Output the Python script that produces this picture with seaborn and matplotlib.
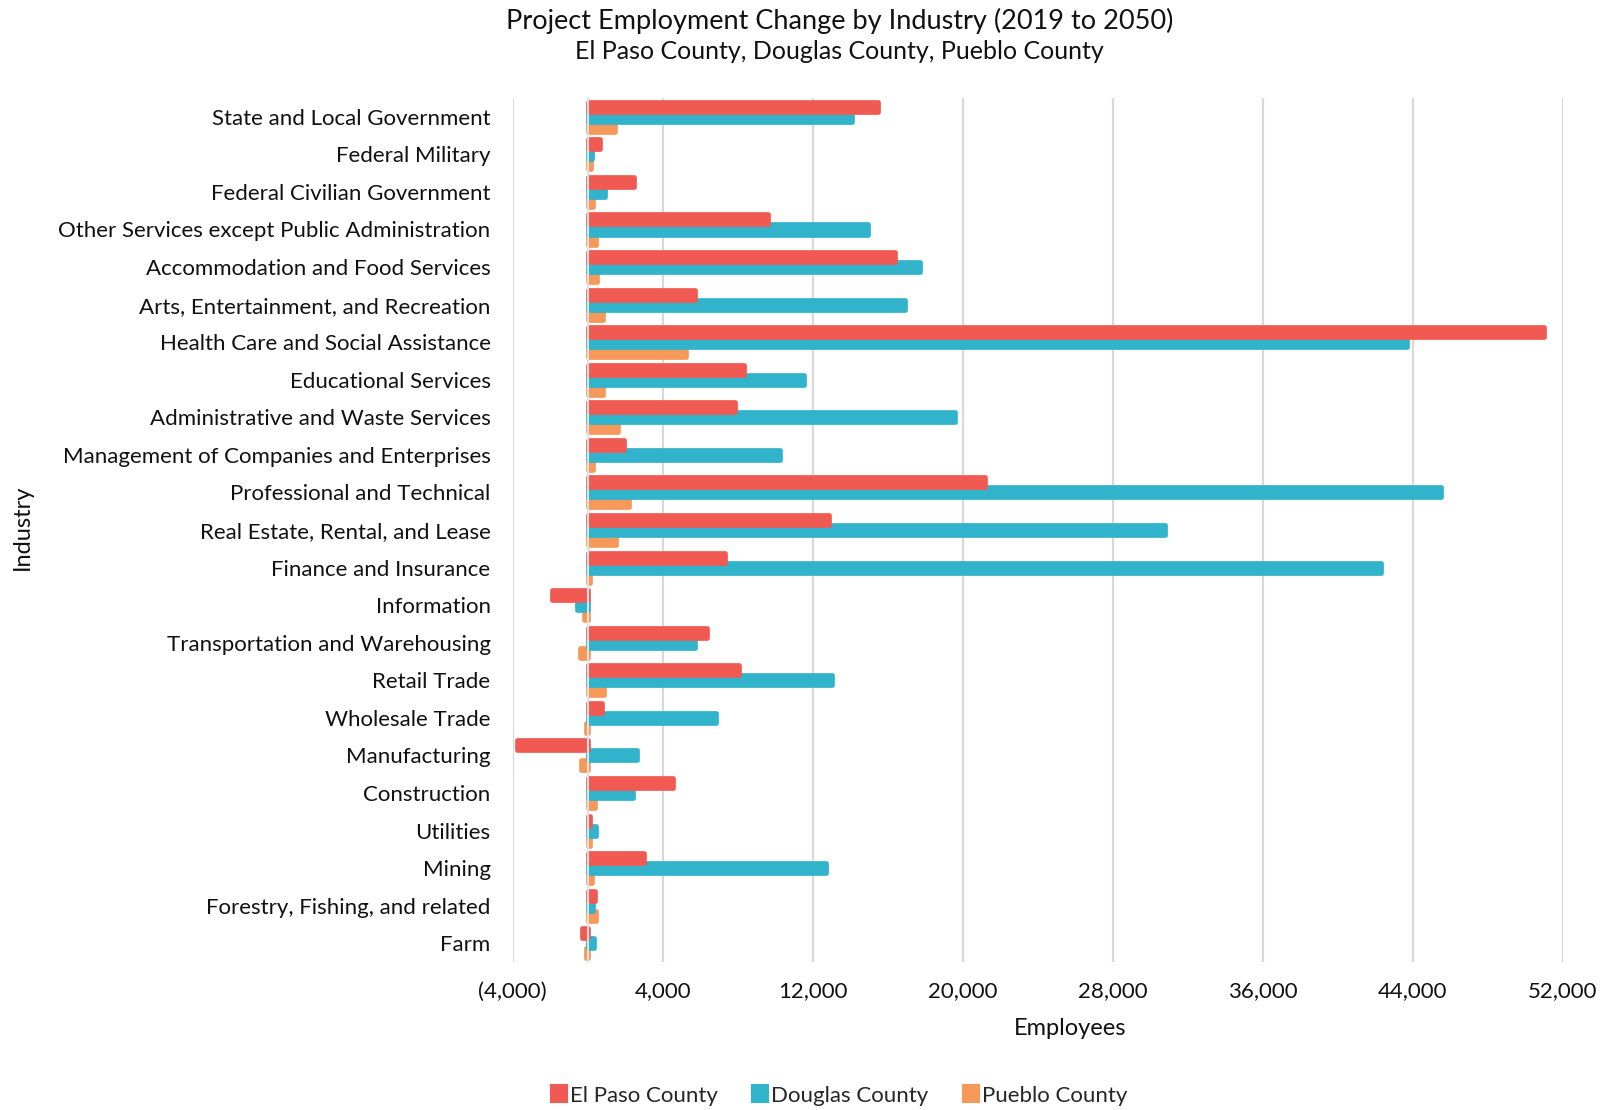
import matplotlib
matplotlib.use("Agg")
import matplotlib.pyplot as plt
import seaborn as sns
import pandas as pd
from matplotlib.ticker import FuncFormatter

industries = [
    "State and Local Government", "Federal Military", "Federal Civilian Government",
    "Other Services except Public Administration", "Accommodation and Food Services",
    "Arts, Entertainment, and Recreation", "Health Care and Social Assistance",
    "Educational Services", "Administrative and Waste Services",
    "Management of Companies and Enterprises", "Professional and Technical",
    "Real Estate, Rental, and Lease", "Finance and Insurance", "Information",
    "Transportation and Warehousing", "Retail Trade", "Wholesale Trade",
    "Manufacturing", "Construction", "Utilities", "Mining",
    "Forestry, Fishing, and related", "Farm",
]
el_paso = [15500, 670, 2450, 9600, 16400, 5700, 51000, 8350, 7850, 1950, 21200,
           12850, 7300, -1900, 6350, 8050, 760, -3800, 4550, 120, 3000, 390, -300]
douglas = [14100, 200, 940, 14950, 17700, 16900, 43700, 11550, 19600, 10250, 45500,
           30800, 42300, -600, 5700, 13050, 6850, 2650, 2400, 460, 12700, 300, 340]
pueblo = [1450, 150, 270, 460, 510, 830, 5250, 830, 1600, 270, 2200,
          1500, 100, -200, -400, 870, -100, -350, 370, 100, 200, 460, -100]
series = ["El Paso County", "Douglas County", "Pueblo County"]
colors = ["#F15A52", "#30B3CB", "#F5985A"]

df = pd.DataFrame({
    "Industry": industries * 3,
    "Employees": el_paso + douglas + pueblo,
    "County": sum([[s] * len(industries) for s in series], []),
})

sns.set_theme(style="white")
plt.rcParams["font.family"] = ["Lato", "DejaVu Sans"]

fig = plt.figure(figsize=(16.14, 11.10), dpi=100)
ax = fig.add_axes([0.3177, 0.1333, 0.6505, 0.7784])

sns.barplot(data=df, y="Industry", x="Employees", hue="County", order=industries,
            hue_order=series, palette=colors, orient="h", width=0.80, ax=ax,
            legend=True, errorbar=None, saturation=1)

zs = [3.3, 3.2, 3.1]
for cont, col, z in zip(ax.containers, colors, zs):
    for p in cont:
        p.set_edgecolor(col)
        p.set_linewidth(3.4)
        p.set_joinstyle("round")
        p.set_zorder(z)

ax.set_xlim(-4000, 52000)
ax.set_ylim(22.5, -0.5)
ax.set_xticks(range(-4000, 52001, 8000))
ax.xaxis.set_major_formatter(FuncFormatter(lambda v, _: f"({abs(int(v)):,})" if v < 0 else f"{int(v):,}"))
ax.grid(axis="x", color="#d9d9d9", linewidth=1.6, zorder=0)
ax.set_axisbelow(True)
ax.axvline(0, color="#e0e0e0", linewidth=1.5, zorder=5)
for s in ax.spines.values():
    s.set_visible(False)
ax.tick_params(axis="both", length=0, labelsize=16, colors="#111111")
ax.tick_params(axis="y", pad=16)
ax.tick_params(axis="x", pad=14)
ax.set_ylabel("")
ax.set_xlabel("Employees", fontsize=17, color="#111111")
ax.xaxis.set_label_coords(0.531, -0.065)
fig.text(0.014, 0.525, "Industry", rotation=90, fontsize=17, color="#111111",
         ha="center", va="center")

fig.text(0.52, 0.993, "Project Employment Change by Industry (2019 to 2050)",
         ha="center", va="top", fontsize=19.5, color="#111111")
fig.text(0.52, 0.964, "El Paso County, Douglas County, Pueblo County",
         ha="center", va="top", fontsize=18, color="#111111")

ax.legend_.remove()
handles = [plt.Rectangle((0, 0), 1, 1, facecolor=c, edgecolor=c, linewidth=1.5,
                         joinstyle="round") for c in colors]
fig.legend(handles, series, loc="center", bbox_to_anchor=(0.52, 0.013), ncol=3,
           frameon=False, fontsize=16, handlelength=0.7, handleheight=0.8,
           handletextpad=0.15, columnspacing=1.55)

fig.savefig("out.png", dpi=100)
